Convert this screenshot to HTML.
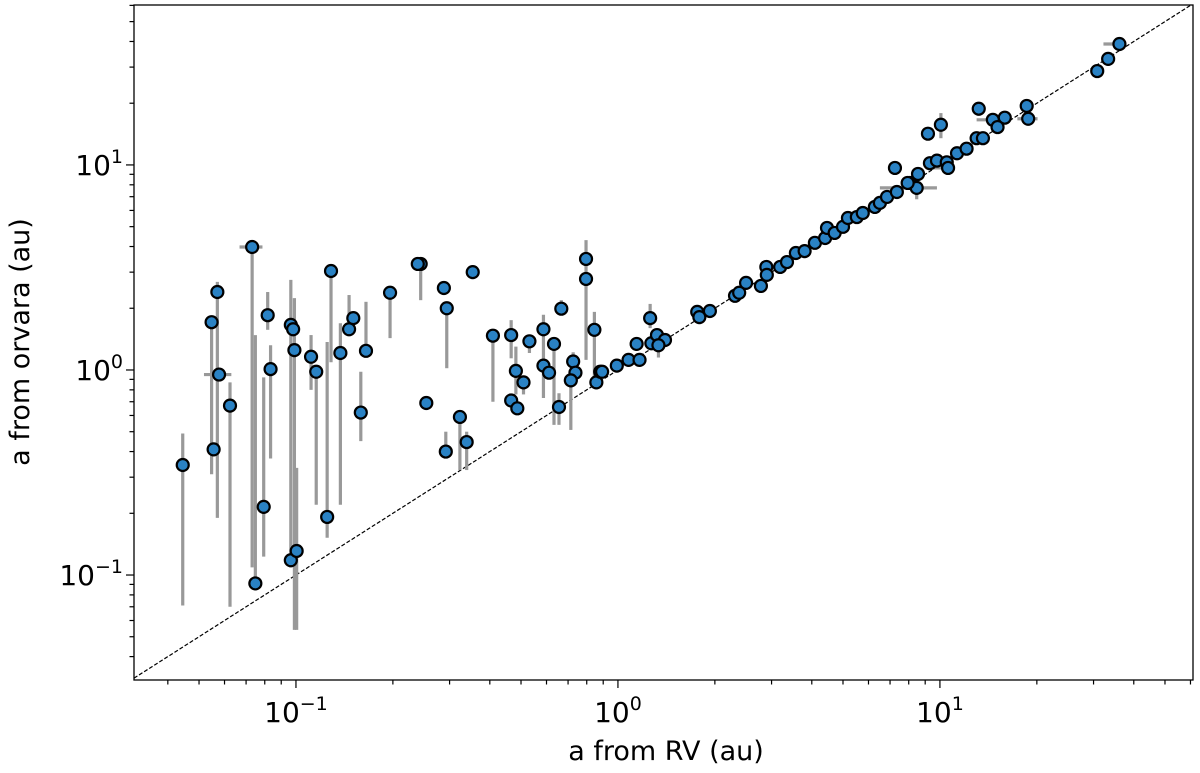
<!DOCTYPE html>
<html><head><meta charset="utf-8">
<style>
html,body{margin:0;padding:0;background:#fff;}
svg{display:block;font-family:"DejaVu Sans","Liberation Sans",sans-serif;}
</style></head>
<body>
<svg id="chart" width="1200" height="773" viewBox="0 0 1200 773">
<rect x="0" y="0" width="1200" height="773" fill="#fff"/>
<g id="diag"></g>
<g id="errs"></g>
<g id="pts"></g>
<g id="axes"></g>
<text x="666" y="760" font-size="27" text-anchor="middle">a from RV (au)</text>
<text transform="translate(29,342) rotate(-90)" font-size="27" text-anchor="middle">a from orvara (au)</text>
</svg>
<script>
const xVals = [0.0445,0.0547,0.0570,0.0577,0.0555,0.0624,0.0731,0.0748,0.0817,0.0794,0.0834,0.0964,0.098,0.0989,0.0964,0.1005,0.1114,0.1156,0.1285,0.125,0.1374,0.1462,0.1507,0.159,0.165,
0.196,0.244,0.239,0.354,0.288,0.294,0.254,0.323,0.339,0.292,0.409,0.466,0.531,0.482,0.509,0.466,0.487,0.587,0.633,0.587,0.611,0.667,0.656,0.726,0.738,0.714,0.796,0.796,0.845,0.857,0.881,
0.893,0.992,1.079,1.143,1.167,1.259,1.27,1.322,1.40,1.336,1.763,1.79,1.93,2.31,2.38,2.50,2.78,2.89,2.90,3.19,3.35,3.57,3.80,4.09,4.40,4.46,4.71,5.00,5.18,5.52,5.76,6.28,6.51,6.85,7.35,8.07,8.47,7.94,8.55,7.25,9.31,9.79,10.5,10.6,11.3,12.1,13.0,13.6,9.18,10.07,13.2,14.6,15.9,15.1,18.6,18.8,30.8,33.3,36.1];
const yVals = [0.344,1.71,2.40,0.95,0.41,0.67,3.98,0.091,1.85,0.215,1.01,1.66,1.58,1.25,0.118,0.131,1.16,0.98,3.04,0.192,1.21,1.58,1.79,0.62,1.24,
2.38,3.29,3.29,3.0,2.51,2.0,0.69,0.59,0.445,0.40,1.47,1.48,1.38,0.99,0.87,0.71,0.65,1.58,1.34,1.05,0.97,1.99,0.66,1.1,0.97,0.89,3.48,2.78,1.57,0.87,0.98,
0.98,1.05,1.12,1.34,1.12,1.79,1.35,1.48,1.40,1.32,1.92,1.81,1.94,2.30,2.38,2.66,2.57,3.18,2.91,3.18,3.36,3.72,3.80,4.17,4.40,4.93,4.66,4.99,5.51,5.57,5.83,6.24,6.53,6.98,7.38,8.17,7.73,8.17,9.04,9.67,10.2,10.5,10.3,9.67,11.4,12.0,13.5,13.5,14.2,15.7,18.8,16.6,17.0,15.3,19.4,16.8,28.7,32.9,38.9];
// vertical error bars: [point index, yLow, yHigh]
const yErrBars = [[0,0.071,0.49],[1,0.31,1.71],[2,0.19,2.69],[5,0.070,0.87],[6,0.109,3.98],[7,0.091,1.48],[8,1.57,2.40],[9,0.123,0.92],[10,0.37,1.32],[11,0.109,2.75],[13,0.054,2.24],[15,0.054,0.333],[16,0.80,1.48],[17,0.22,0.98],[18,1.09,3.04],[19,0.152,1.37],[20,0.22,1.69],[21,1.58,2.32],[23,0.45,0.98],[24,1.18,2.15],
[25,1.43,2.38],[26,2.19,3.4],[30,1.02,2.0],[32,0.325,0.59],[33,0.325,0.50],[34,0.40,0.50],[35,0.70,1.47],[36,1.14,1.75],[37,1.21,1.38],[38,0.76,1.30],[39,0.76,0.87],[42,0.73,1.86],[43,0.54,1.34],[46,1.99,2.19],[47,0.54,0.77],[48,1.1,1.22],[50,0.51,0.89],[51,1.12,4.3],[53,0.89,1.92],
[61,1.6,2.1],[65,1.15,1.4],[105,13.5,17.9],[92,6.8,8.9]];
// horizontal error bars: [y, xLow, xHigh]
const xErrBars = [[0.95,0.0518,0.063],[3.98,0.0668,0.0787],[7.73,6.51,9.79],[16.6,13.0,15.2],[16.8,17.4,20.1],[38.9,32.2,37.3],[9.67,9.04,10.9]];
const xTickVals = [0.1,1,10];
const yTickVals = [0.1,1,10];
const tickExps = ["\u22121","0","1"];

const NS='http://www.w3.org/2000/svg';
const L=134,R=1193,T=5,B=680;
const xMinL=-1.503,xMaxL=1.786,yMinL=-1.512,yMaxL=1.78;
function sx(v){return L+(Math.log10(v)-xMinL)/(xMaxL-xMinL)*(R-L);}
function sy(v){return B-(Math.log10(v)-yMinL)/(yMaxL-yMinL)*(B-T);}
function mk(tag,attrs,parent){const e=document.createElementNS(NS,tag);for(const k in attrs)e.setAttribute(k,attrs[k]);parent.appendChild(e);return e;}

const dg=document.getElementById('diag');
const dlo=Math.pow(10,Math.max(xMinL,yMinL)),dhi=Math.pow(10,Math.min(xMaxL,yMaxL));
const dl=mk('line',{x1:sx(dlo),y1:sy(dlo),x2:sx(dhi),y2:sy(dhi),stroke:'#000','stroke-width':1.2,'stroke-dasharray':'4,2'},dg);



const eg=document.getElementById('errs');
yErrBars.forEach(b=>{
  const X=sx(xVals[b[0]]);
  const e=mk('line',{x1:X,x2:X,y1:sy(b[1]),y2:sy(b[2]),stroke:'#999','stroke-width':3.2},eg);
  
  
});
xErrBars.forEach(b=>{
  const e=mk('line',{y1:sy(b[0]),y2:sy(b[0]),x1:sx(b[1]),x2:sx(b[2]),stroke:'#999','stroke-width':3.2},eg);
  
  
});
const pg=document.getElementById('pts');
xVals.forEach((x,i)=>{
  const c=mk('circle',{cx:sx(x),cy:sy(yVals[i]),r:6,fill:'#2a82c4',stroke:'#000','stroke-width':2.2},pg);
  
  
});

const ag=document.getElementById('axes');
const fr=mk('rect',{x:L,y:T,width:R-L,height:B-T,fill:'none',stroke:'#000','stroke-width':1.3},ag);


for(let d=-2;d<=1;d++){for(let m=1;m<10;m++){
  const v=m*Math.pow(10,d);const lv=Math.log10(v);
  const len=m===1?8:4.5;
  if(lv>=xMinL&&lv<=xMaxL){const X=sx(v);mk('line',{x1:X,x2:X,y1:B,y2:B+len,stroke:'#000','stroke-width':1.2},ag);}
  if(lv>=yMinL&&lv<=yMaxL){const Y=sy(v);mk('line',{x1:L,x2:L-len,y1:Y,y2:Y,stroke:'#000','stroke-width':1.2},ag);}
}}
xTickVals.forEach((v,i)=>{
  const t=mk('text',{x:sx(v),y:722,'font-size':28,'text-anchor':'middle'},ag);
  t.textContent='10';
  const s=mk('tspan',{dy:-12,'font-size':19},t);s.textContent=tickExps[i];
  
  
});
yTickVals.forEach((v,i)=>{
  const t=mk('text',{x:123,y:sy(v)+10,'font-size':28,'text-anchor':'end'},ag);
  t.textContent='10';
  const s=mk('tspan',{dy:-12,'font-size':19},t);s.textContent=tickExps[i];
  
  
});
</script>
</body></html>
